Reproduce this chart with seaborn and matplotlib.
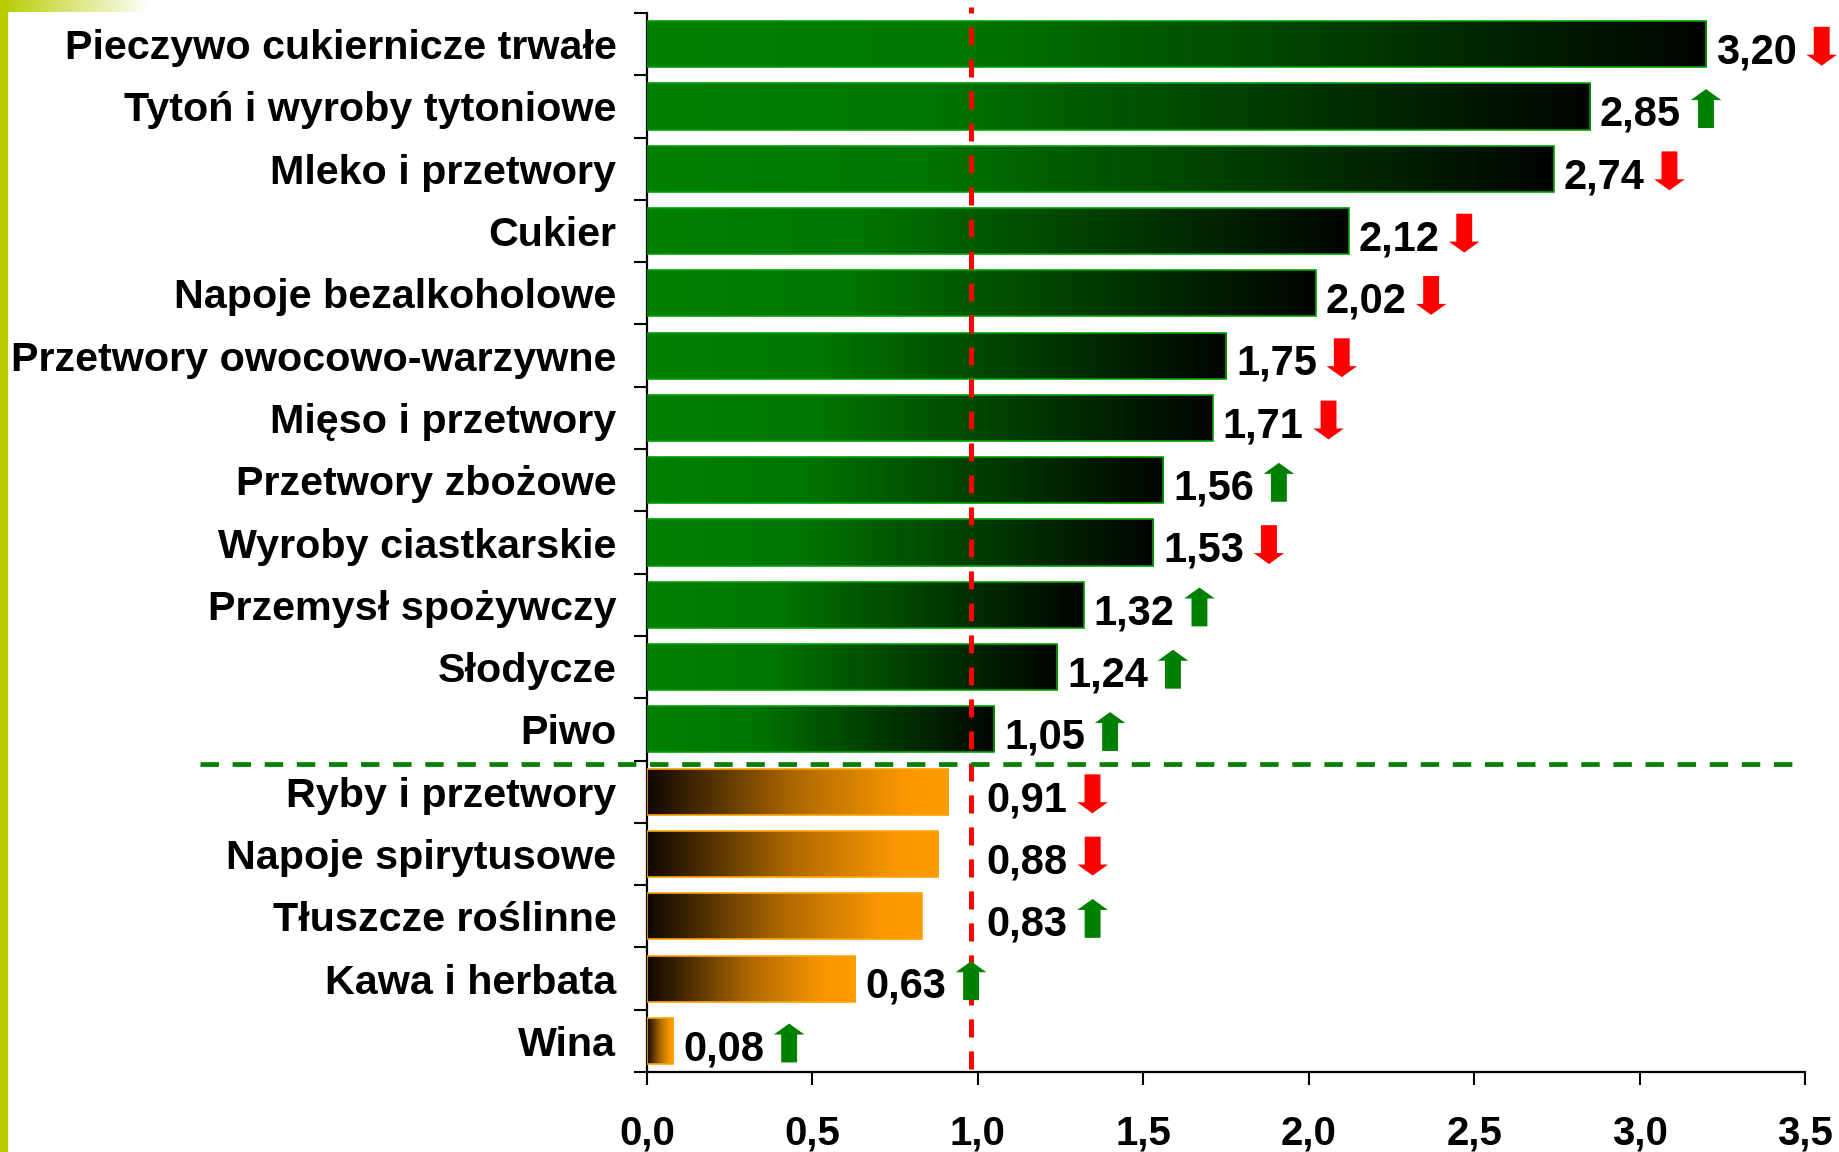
import numpy as np
import pandas as pd
import matplotlib
matplotlib.use("Agg")
import matplotlib.pyplot as plt
import seaborn as sns
from matplotlib.colors import LinearSegmentedColormap
from matplotlib.text import OffsetFrom
from matplotlib.ticker import FuncFormatter

# ---- data ----
categories = [
    "Pieczywo cukiernicze trwałe", "Tytoń i wyroby tytoniowe", "Mleko i przetwory",
    "Cukier", "Napoje bezalkoholowe", "Przetwory owocowo-warzywne",
    "Mięso i przetwory", "Przetwory zbożowe", "Wyroby ciastkarskie",
    "Przemysł spożywczy", "Słodycze", "Piwo",
    "Ryby i przetwory", "Napoje spirytusowe", "Tłuszcze roślinne",
    "Kawa i herbata", "Wina",
]
values = [3.20, 2.85, 2.74, 2.12, 2.02, 1.75, 1.71, 1.56, 1.53, 1.32, 1.24, 1.05,
          0.91, 0.88, 0.83, 0.63, 0.08]
trends = ["down", "up", "down", "down", "down", "down", "down", "up", "down",
          "up", "up", "up", "down", "down", "up", "up", "up"]
reference_value = 0.98
xticks = [0.0, 0.5, 1.0, 1.5, 2.0, 2.5, 3.0, 3.5]

df = pd.DataFrame({"kategoria": categories, "wartosc": values})

sns.set_theme(style="white")
plt.rcParams["font.family"] = ["Liberation Sans", "DejaVu Sans"]
plt.rcParams["font.weight"] = "bold"

fig = plt.figure(figsize=(18.4, 11.52), dpi=100)
ax = fig.add_axes([0.3516, 0.0694, 0.6296, 0.9193])

sns.barplot(data=df, x="wartosc", y="kategoria", orient="h", width=0.74,
            color="green", saturation=1, ax=ax)

green_cmap = LinearSegmentedColormap.from_list(
    "g", [(0.0, "#008000"), (0.3, "#007600"), (0.65, "#003d00"), (1.0, "#000400")])
orange_cmap = LinearSegmentedColormap.from_list(
    "o", [(0.0, "#0e0700"), (0.5, "#b06a00"), (0.85, "#fa9700"), (1.0, "#ff9c00")])

grad = np.linspace(0, 1, 256).reshape(1, -1)
n = len(categories)
for i, p in enumerate(ax.patches[:n]):
    above = values[i] >= reference_value
    cmap = green_cmap if above else orange_cmap
    edge = "#00a000" if above else "#ffa200"
    bb = p.get_bbox()
    im = ax.imshow(grad, extent=[bb.x0, bb.x1, bb.y1, bb.y0], aspect="auto",
                   cmap=cmap, interpolation="bicubic", zorder=2)
    im.set_clip_path(p)
    p.set_facecolor("none")
    p.set_edgecolor(edge)
    p.set_linewidth(1.2)
    p.set_zorder(3)

ax.set_xlim(0, 3.5)
ax.set_ylim(n - 0.5, -0.5)

# reference lines
ax.axvline(reference_value, ymin=0.003, ymax=1.006, color="#ff0000", lw=3.6,
           dashes=(3.6, 2.8), zorder=4, clip_on=False)
ax.plot([-0.386, 0.996], [11.55, 11.55], transform=ax.get_yaxis_transform(),
        color="#008000", lw=3.4, dashes=(3.9, 2.9), clip_on=False, zorder=4)

# value labels and arrows
for i, (v, tr) in enumerate(zip(values, trends)):
    lx = v
    off = 7
    if reference_value - 0.25 < v < reference_value:
        lx = reference_value
        off = 11
    t = ax.annotate(f"{v:.2f}".replace(".", ","), xy=(lx, i), xytext=(off, -6),
                    textcoords="offset points", ha="left", va="center",
                    fontsize=30, fontweight="bold", color="black", zorder=5,
                    annotation_clip=False)
    ref = OffsetFrom(t, (1.0, 0.5), unit="points")
    ax_x = 7 + 11
    half = 14
    if tr == "up":
        start, end, col = (ax_x, -half + 4.5), (ax_x, half + 4.5), "#008000"
    else:
        start, end, col = (ax_x, half + 4.5), (ax_x, -half + 4.5), "#ff0000"
    ax.annotate("", xy=end, xycoords=ref, xytext=start, textcoords=ref,
                arrowprops=dict(arrowstyle="simple,head_length=0.36,head_width=1.0,tail_width=0.52",
                                color=col, shrinkA=0, shrinkB=0, mutation_scale=22, lw=0),
                annotation_clip=False, zorder=5)

# axes styling
sns.despine(ax=ax, top=True, right=True)
for s in ["left", "bottom"]:
    ax.spines[s].set_color("black")
    ax.spines[s].set_linewidth(1.6)
ax.set_xlabel("")
ax.set_ylabel("")
ax.set_xticks(xticks)
ax.xaxis.set_major_formatter(FuncFormatter(lambda x, _: f"{x:.1f}".replace(".", ",")))
ax.tick_params(axis="x", which="major", direction="out", length=9.4, width=1.5,
               color="black", pad=21, labelsize=29, bottom=True)
ax.set_yticks(np.arange(-0.5, n, 1.0), minor=True)
ax.tick_params(axis="y", which="minor", direction="out", length=9.4, width=1.5,
               color="black", left=True)
ax.tick_params(axis="y", which="major", length=0, pad=22, labelsize=29.7, left=True)
for lab in ax.get_xticklabels() + ax.get_yticklabels():
    lab.set_fontweight("bold")
    lab.set_color("black")

# decorative left stripe and top gradient
fig.patches.append(plt.Rectangle((0, 0), 7 / 1840, 1.0, transform=fig.transFigure,
                                 color="#b8cc00", zorder=0))
bax = fig.add_axes([0, 1 - 12.5 / 1152, 150 / 1840, 12.5 / 1152])
band_cmap = LinearSegmentedColormap.from_list("b", ["#b8cc00", "#ffffff"])
bax.imshow(grad, aspect="auto", cmap=band_cmap, extent=[0, 1, 0, 1])
bax.set_axis_off()

fig.savefig("out.png", dpi=100)
